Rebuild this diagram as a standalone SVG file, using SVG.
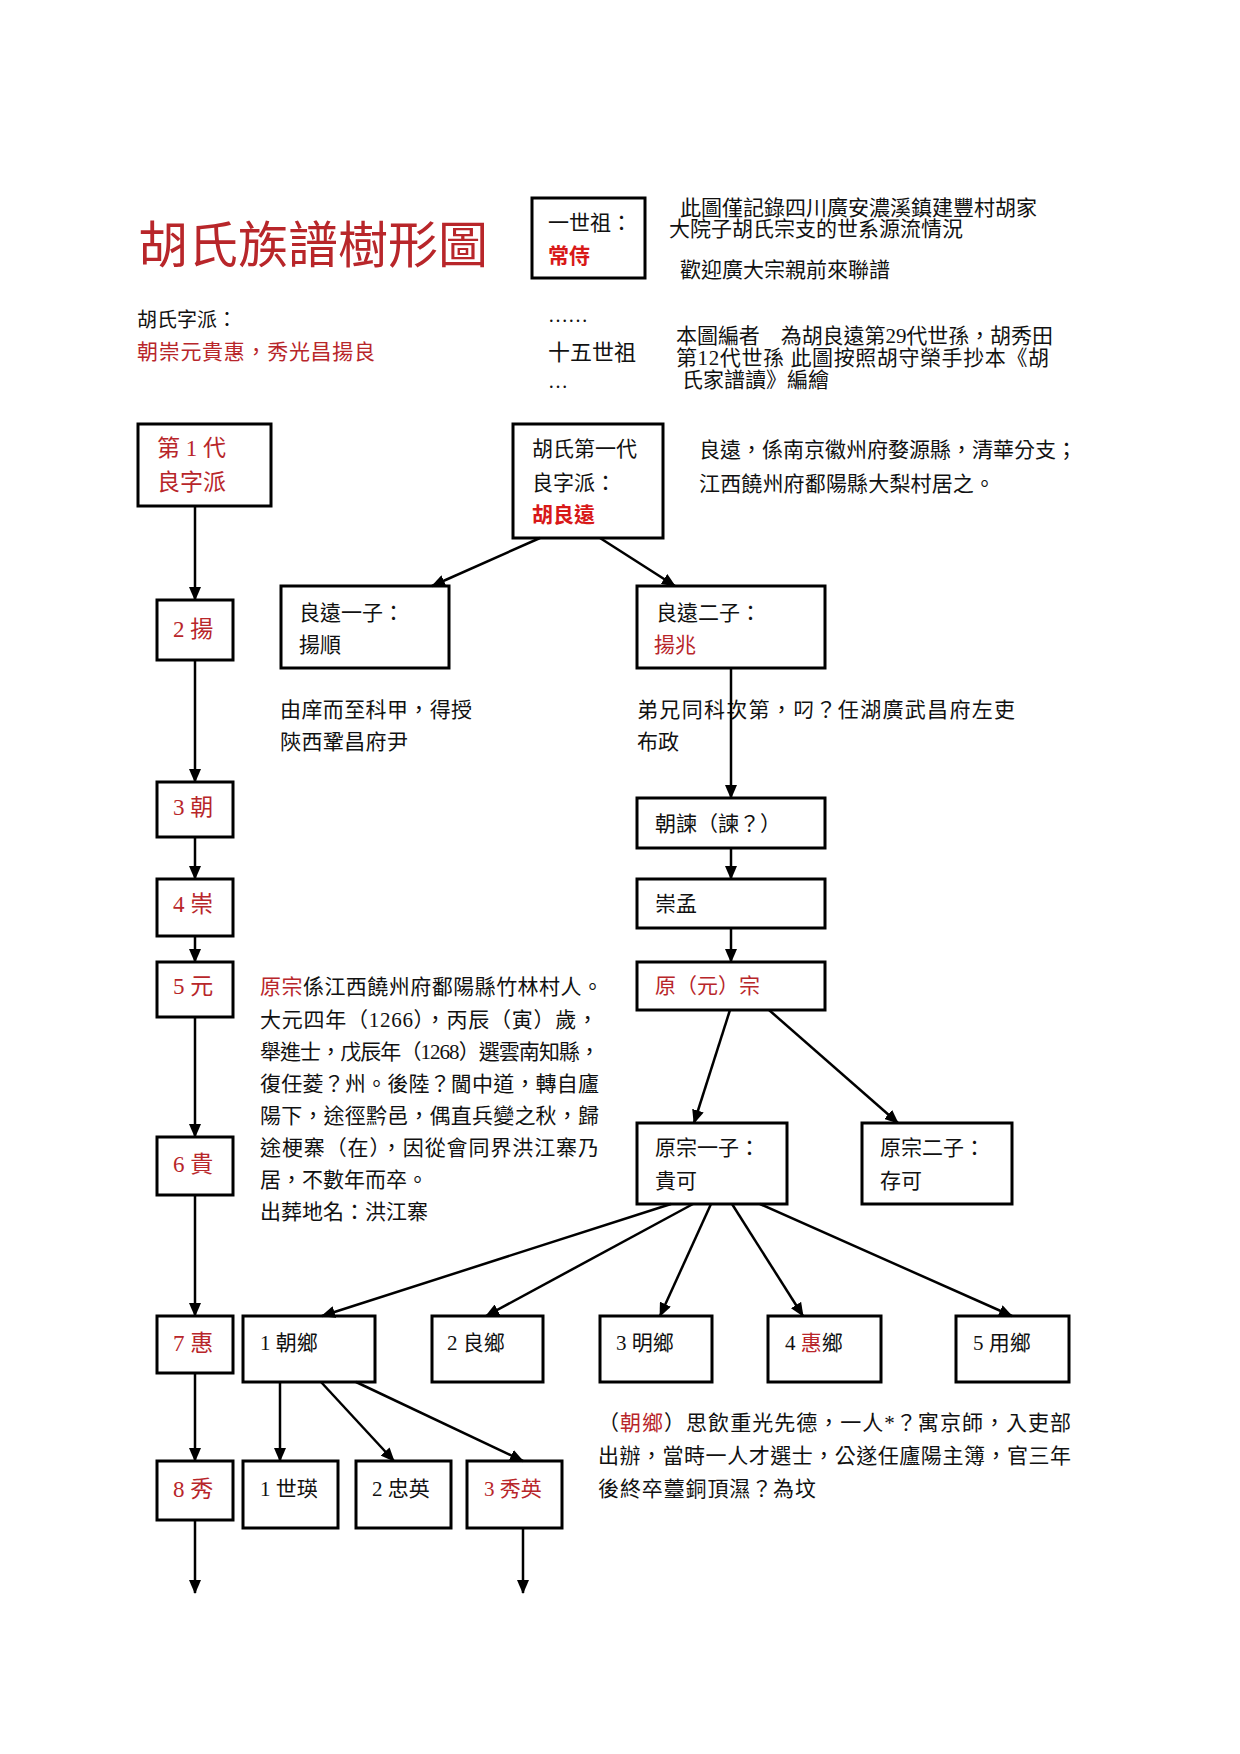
<svg xmlns="http://www.w3.org/2000/svg" width="1240" height="1754" viewBox="0 0 1240 1754">
<defs>
<style>
text{font-family:"Liberation Serif","Noto Sans CJK TC",serif;font-size:21px;fill:#111}
.r{fill:#b8262a}
.rb{fill:#d81818;font-weight:bold}
.g{font-size:23px}
.box{fill:#fff;stroke:#000;stroke-width:3}
.c line{stroke:#000;stroke-width:2.5;marker-end:url(#ah)}
</style>
<marker id="ah" markerWidth="14" markerHeight="12" refX="13" refY="6" orient="auto" markerUnits="userSpaceOnUse"><path d="M0,0 L14,6 L0,12 z" fill="#000"/></marker>
</defs>
<rect width="1240" height="1754" fill="#fff"/>

<g id="header">
<text x="138" y="263" style="font-size:50px" class="r">胡氏族譜樹形圖</text>
<text x="137" y="327" style="font-size:20px">胡氏字派：</text>
<text x="137" y="359" style="font-size:21px" class="r" textLength="238" lengthAdjust="spacing">朝崇元貴惠，秀光昌揚良</text>
<text x="548" y="322" style="font-size:20px">……</text>
<text x="548" y="360" style="font-size:22px">十五世祖</text>
<text x="548" y="388" style="font-size:20px">…</text>
<text x="680" y="215">此圖僅記錄四川廣安濃溪鎮建豐村胡家</text>
<text x="669" y="236">大院子胡氏宗支的世系源流情況</text>
<text x="680" y="277">歡迎廣大宗親前來聯譜</text>
<text x="676" y="343" textLength="377" lengthAdjust="spacing">本圖編者　為胡良遠第29代世孫，胡秀田</text>
<text x="676" y="365" textLength="373" lengthAdjust="spacing">第12代世孫  此圖按照胡守榮手抄本《胡</text>
<text x="682" y="387">氏家譜讀》編繪</text>
</g>

<g id="n-shizu">
<rect class="box" x="532" y="198" width="113" height="80"/>
<text x="548" y="230">一世祖：</text>
<text x="548" y="263" class="rb">常侍</text>
</g>

<g id="n-gen1">
<rect class="box" x="138" y="424" width="133" height="82"/>
<text x="157" y="456" class="r g">第 1 代</text>
<text x="157" y="490" class="r g">良字派</text>
</g>
<g id="n-liangyuan">
<rect class="box" x="513" y="424" width="150" height="114"/>
<text x="532" y="456">胡氏第一代</text>
<text x="532" y="490">良字派：</text>
<text x="532" y="522" class="rb">胡良遠</text>
</g>
<g id="note-liangyuan">
<text x="699" y="457" textLength="378" lengthAdjust="spacing">良遠，係南京徽州府婺源縣，清華分支；</text>
<text x="699" y="491" textLength="296" lengthAdjust="spacing">江西饒州府鄱陽縣大梨村居之。</text>
</g>

<g id="n-gen2"><rect class="box" x="157" y="600" width="76" height="60"/><text x="173" y="637" class="r g">2 揚</text></g>
<g id="n-gen3"><rect class="box" x="157" y="782" width="76" height="55"/><text x="173" y="815" class="r g">3 朝</text></g>
<g id="n-gen4"><rect class="box" x="157" y="879" width="76" height="57"/><text x="173" y="912" class="r g">4 崇</text></g>
<g id="n-gen5"><rect class="box" x="157" y="962" width="76" height="55"/><text x="173" y="994" class="r g">5 元</text></g>
<g id="n-gen6"><rect class="box" x="157" y="1137" width="76" height="58"/><text x="173" y="1172" class="r g">6 貴</text></g>
<g id="n-gen7"><rect class="box" x="157" y="1316" width="76" height="57"/><text x="173" y="1351" class="r g">7 惠</text></g>
<g id="n-gen8"><rect class="box" x="157" y="1461" width="76" height="59"/><text x="173" y="1497" class="r g">8 秀</text></g>

<g id="n-yangshun">
<rect class="box" x="281" y="586" width="168" height="82"/>
<text x="299" y="620">良遠一子：</text>
<text x="299" y="652">揚順</text>
</g>
<g id="note-yangshun">
<text x="280" y="717" textLength="192" lengthAdjust="spacing">由庠而至科甲，得授</text>
<text x="280" y="749" textLength="128" lengthAdjust="spacing">陝西鞏昌府尹</text>
</g>
<g id="n-yangzhao">
<rect class="box" x="637" y="586" width="188" height="82"/>
<text x="656" y="620">良遠二子：</text>
<text x="654" y="652" class="r">揚兆</text>
</g>
<g id="note-yangzhao">
<text x="637" y="717" textLength="378" lengthAdjust="spacing">弟兄同科次第，叼？任湖廣武昌府左吏</text>
<text x="637" y="749">布政</text>
</g>

<g id="n-chaojian"><rect class="box" x="637" y="798" width="188" height="50"/><text x="655" y="831">朝諫（諫？）</text></g>
<g id="n-chongmeng"><rect class="box" x="637" y="879" width="188" height="49"/><text x="655" y="911">崇孟</text></g>
<g id="n-yuanzong"><rect class="box" x="637" y="962" width="188" height="48"/><text x="655" y="993" class="r">原（元）宗</text></g>

<g id="note-yuanzong">
<text x="260" y="994" textLength="343" lengthAdjust="spacing"><tspan class="r">原宗</tspan>係江西饒州府鄱陽縣竹林村人。</text>
<text x="260" y="1027" textLength="338" lengthAdjust="spacing">大元四年（1266），丙辰（寅）歲，</text>
<text x="260" y="1059" textLength="340" lengthAdjust="spacing">舉進士，戊辰年（1268）選雲南知縣，</text>
<text x="260" y="1091" textLength="339" lengthAdjust="spacing">復任菱？州。後陸？閫中道，轉自廬</text>
<text x="260" y="1123" textLength="339" lengthAdjust="spacing">陽下，途徑黔邑，偶直兵變之秋，歸</text>
<text x="260" y="1155" textLength="339" lengthAdjust="spacing">途梗寨（在），因從會同界洪江寨乃</text>
<text x="260" y="1187">居，不數年而卒。</text>
<text x="260" y="1219">出葬地名：洪江寨</text>
</g>

<g id="n-guike">
<rect class="box" x="637" y="1123" width="150" height="81"/>
<text x="655" y="1155">原宗一子：</text>
<text x="655" y="1188">貴可</text>
</g>
<g id="n-cunke">
<rect class="box" x="862" y="1123" width="150" height="81"/>
<text x="880" y="1155">原宗二子：</text>
<text x="880" y="1188">存可</text>
</g>

<g id="n-chaoxiang"><rect class="box" x="243" y="1316" width="132" height="66"/><text x="260" y="1350">1 朝鄉</text></g>
<g id="n-liangxiang"><rect class="box" x="432" y="1316" width="111" height="66"/><text x="447" y="1350">2 良鄉</text></g>
<g id="n-mingxiang"><rect class="box" x="600" y="1316" width="112" height="66"/><text x="616" y="1350">3 明鄉</text></g>
<g id="n-huixiang"><rect class="box" x="768" y="1316" width="113" height="66"/><text x="785" y="1350">4 <tspan class="r">惠</tspan>鄉</text></g>
<g id="n-yongxiang"><rect class="box" x="956" y="1316" width="113" height="66"/><text x="973" y="1350">5 用鄉</text></g>

<g id="n-shiying"><rect class="box" x="243" y="1461" width="95" height="67"/><text x="260" y="1496">1 世瑛</text></g>
<g id="n-zhongying"><rect class="box" x="356" y="1461" width="95" height="67"/><text x="372" y="1496">2 忠英</text></g>
<g id="n-xiuying"><rect class="box" x="467" y="1461" width="95" height="67"/><text x="484" y="1496" class="r">3 秀英</text></g>

<g id="note-chaoxiang">
<text x="598" y="1430" textLength="473" lengthAdjust="spacing"><tspan>（</tspan><tspan class="r">朝鄉</tspan><tspan>）思飲重光先德，一人*？寓京師，入吏部</tspan></text>
<text x="598" y="1463" textLength="473" lengthAdjust="spacing">出辦，當時一人才選士，公遂任廬陽主簿，官三年</text>
<text x="598" y="1496" textLength="218" lengthAdjust="spacing">後終卒薹銅頂濕？為坟</text>
</g>

<g id="connectors" class="c">
<line x1="195" y1="506" x2="195" y2="600"/>
<line x1="195" y1="660" x2="195" y2="782"/>
<line x1="195" y1="837" x2="195" y2="879"/>
<line x1="195" y1="936" x2="195" y2="962"/>
<line x1="195" y1="1017" x2="195" y2="1137"/>
<line x1="195" y1="1195" x2="195" y2="1316"/>
<line x1="195" y1="1373" x2="195" y2="1461"/>
<line x1="195" y1="1520" x2="195" y2="1593"/>
<line x1="540" y1="538" x2="432" y2="586"/>
<line x1="600" y1="538" x2="675" y2="586"/>
<line x1="731" y1="668" x2="731" y2="798"/>
<line x1="731" y1="848" x2="731" y2="879"/>
<line x1="731" y1="928" x2="731" y2="962"/>
<line x1="730" y1="1010" x2="694" y2="1123"/>
<line x1="769" y1="1010" x2="898" y2="1123"/>
<line x1="671" y1="1204" x2="322" y2="1316"/>
<line x1="693" y1="1204" x2="486" y2="1316"/>
<line x1="711" y1="1204" x2="660" y2="1316"/>
<line x1="732" y1="1204" x2="803" y2="1316"/>
<line x1="760" y1="1204" x2="1012" y2="1316"/>
<line x1="280" y1="1382" x2="280" y2="1461"/>
<line x1="321" y1="1382" x2="394" y2="1461"/>
<line x1="356" y1="1382" x2="523" y2="1461"/>
<line x1="523" y1="1528" x2="523" y2="1593"/>
</g>
</svg>
